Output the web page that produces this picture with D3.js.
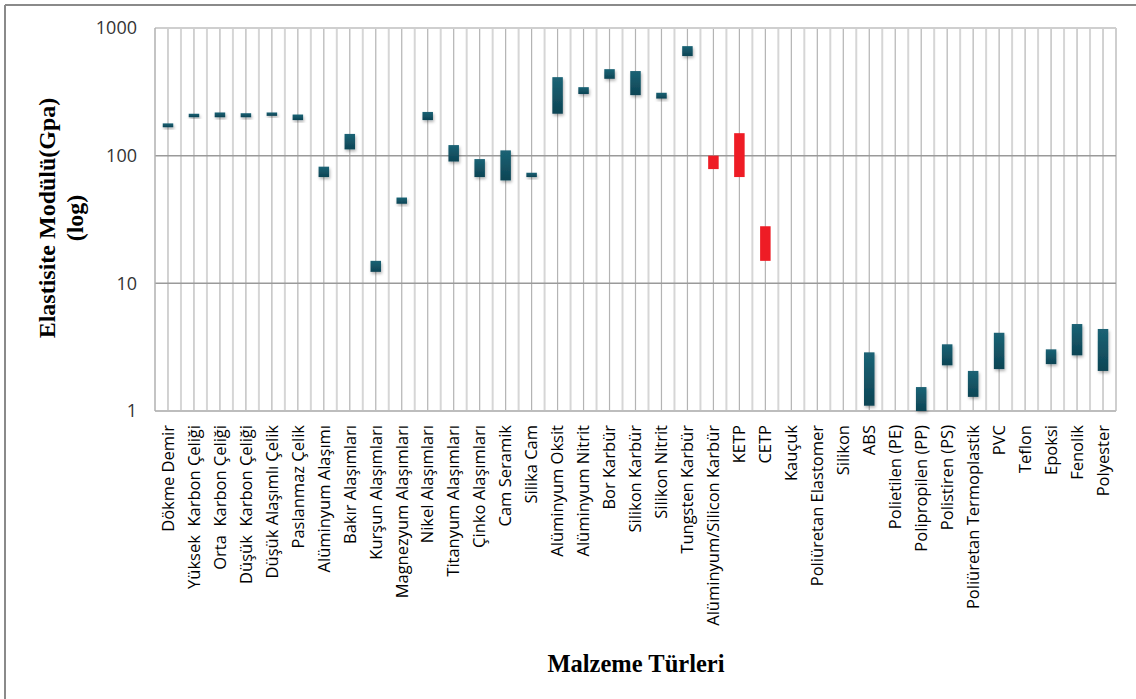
<!DOCTYPE html>
<html><head><meta charset="utf-8">
<script src="https://cdn.jsdelivr.net/npm/d3@7"></script>
<style>body{margin:0;background:#fff;}svg{display:block;}</style>
</head><body>
<script>
const categories = ["Dökme Demir","Yüksek  Karbon Çeliği","Orta  Karbon Çeliği","Düşük  Karbon Çeliği","Düşük Alaşımlı Çelik","Paslanmaz Çelik","Alüminyum Alaşımı","Bakır Alaşımları","Kurşun Alaşımları","Magnezyum Alaşımları","Nikel Alaşımları","Titanyum Alaşımları","Çinko Alaşımları","Cam Seramik","Silika Cam","Alüminyum Oksit","Alüminyum Nitrit","Bor Karbür","Silikon Karbür","Silikon Nitrit","Tungsten Karbür","Alüminyum/Silicon Karbür","KETP","CETP","Kauçuk","Poliüretan Elastomer","Silikon","ABS","Polietilen (PE)","Polipropilen (PP)","Polistiren (PS)","Poliüretan Termoplastik","PVC","Teflon","Epoksi","Fenolik","Polyester"];
const lowValues  = [167,200,200,200,205,190,68,112,12.3,42,190,90,68,64,68,213,304,400,298,280,603,78.5,68,15,null,null,null,1.1,null,1.0,2.28,1.29,2.13,null,2.33,2.73,2.06];
const highValues = [179,213,218,215,218,210,82,148,15,47,220,121,94,110,73.5,412,344,476,460,311,721,100,150,28,null,null,null,2.88,null,1.54,3.33,2.06,4.1,null,3.04,4.8,4.39];
const highlighted = ["Alüminyum/Silicon Karbür","KETP","CETP"];
const yTicks = [1,10,100,1000];

const W=1136,H=699;
const m={left:155,right:1116,top:28,bottom:411};
const svg=d3.select("body").append("svg").attr("width",W).attr("height",H);
const defs=svg.append("defs");
const g=defs.append("linearGradient").attr("id","teal").attr("x1",0).attr("y1",0).attr("x2",0).attr("y2",1);
g.append("stop").attr("offset","0%").attr("stop-color","#1b6375");
g.append("stop").attr("offset","100%").attr("stop-color","#0d4454");
const f=defs.append("filter").attr("id","sh").attr("x","-50%").attr("y","-50%").attr("width","200%").attr("height","200%");
f.append("feDropShadow").attr("dx",1).attr("dy",2).attr("stdDeviation",1.5).attr("flood-color","#000").attr("flood-opacity",0.3);

// outer frame
svg.append("line").attr("x1",5).attr("x2",W).attr("y1",5).attr("y2",5).attr("stroke","#8a8a8a").attr("stroke-width",2);
svg.append("line").attr("x1",5).attr("x2",5).attr("y1",5).attr("y2",H).attr("stroke","#8a8a8a").attr("stroke-width",2);

const x=d3.scaleBand().domain(categories).range([m.left,m.right]).paddingInner(0).paddingOuter(0);
const y=d3.scaleLog().domain([1,1000]).range([m.bottom,m.top]);
const bw=x.bandwidth();

// vertical gridlines: boundaries (light) and centers (darker)
const grid=svg.append("g");
const bounds=categories.map(c=>x(c)).concat([m.right]);
grid.selectAll(".vb").data(bounds.slice(1,-1)).enter().append("line")
  .attr("x1",d=>d).attr("x2",d=>d).attr("y1",m.top).attr("y2",m.bottom)
  .attr("stroke","#d6d6d6").attr("stroke-width",2);
grid.selectAll(".vc").data(categories).enter().append("line")
  .attr("x1",d=>x(d)+bw/2).attr("x2",d=>x(d)+bw/2).attr("y1",m.top).attr("y2",m.bottom)
  .attr("stroke","#b4b4b4").attr("stroke-width",1.2);
grid.append("line").attr("x1",m.right).attr("x2",m.right).attr("y1",m.top).attr("y2",m.bottom).attr("stroke","#cfcfcf").attr("stroke-width",2);
grid.selectAll(".h").data([10,100]).enter().append("line")
  .attr("x1",m.left).attr("x2",m.right).attr("y1",d=>y(d)).attr("y2",d=>y(d))
  .attr("stroke","#9a9a9a").attr("stroke-width",1.5);
grid.append("line").attr("x1",m.left).attr("x2",m.right).attr("y1",y(1000)).attr("y2",y(1000)).attr("stroke","#cfcfcf").attr("stroke-width",2);
grid.append("line").attr("x1",m.left).attr("x2",m.right).attr("y1",y(1)).attr("y2",y(1)).attr("stroke","#bdbdbd").attr("stroke-width",2);
grid.append("line").attr("x1",m.left).attr("x2",m.left).attr("y1",m.top).attr("y2",m.bottom).attr("stroke","#b0b0b0").attr("stroke-width",1.5);

// y axis
const yAxis=d3.axisLeft(y).tickValues(yTicks).tickFormat(d3.format("d")).tickSize(0).tickPadding(18);
const ya=svg.append("g").attr("transform",`translate(${m.left},0)`).call(yAxis);
ya.select(".domain").remove();
ya.selectAll("text").attr("font-family","Open Sans, sans-serif").attr("font-size",18).attr("fill","#333");

// x axis labels
const xAxis=d3.axisBottom(x).tickSize(0).tickPadding(0);
const xa=svg.append("g").attr("transform",`translate(0,${m.bottom})`).call(xAxis);
xa.select(".domain").remove();
xa.selectAll("text").attr("font-family","Open Sans, sans-serif").attr("font-size",16.5).attr("fill","#000")
  .attr("text-anchor","end").attr("transform","translate(0,14) rotate(-90)").attr("dx",0).attr("dy","0.35em").attr("y",0).attr("x",0)
  .style("white-space","pre").attr("xml:space","preserve");

// bars
const data=categories.map((c,i)=>({c,lo:lowValues[i],hi:highValues[i]})).filter(d=>d.lo!=null);
const barW=10.5;
svg.append("g").selectAll("rect").data(data).enter().append("rect")
  .attr("x",d=>x(d.c)+bw/2-barW/2).attr("width",barW)
  .attr("y",d=>y(d.hi)).attr("height",d=>Math.max(2,y(d.lo)-y(d.hi)))
  .attr("fill",d=>highlighted.includes(d.c)?"#ee1c25":"url(#teal)")
  .attr("filter",d=>highlighted.includes(d.c)?null:"url(#sh)");

// titles
const yt=svg.append("text").attr("transform","translate(47,218) rotate(-90)").attr("text-anchor","middle")
  .attr("font-family","Liberation Serif, serif").attr("font-weight","bold").attr("font-size",24).attr("fill","#000");
yt.append("tspan").attr("x",0).attr("dy","0.35em").text("Elastisite Modülü(Gpa)");
yt.append("tspan").attr("x",0).attr("dy","1.15em").text("(log)");
svg.append("text").attr("x",636).attr("y",672).attr("text-anchor","middle")
  .attr("font-family","Liberation Serif, serif").attr("font-weight","bold").attr("font-size",24.5).attr("fill","#000")
  .text("Malzeme Türleri");
</script>
</body></html>
